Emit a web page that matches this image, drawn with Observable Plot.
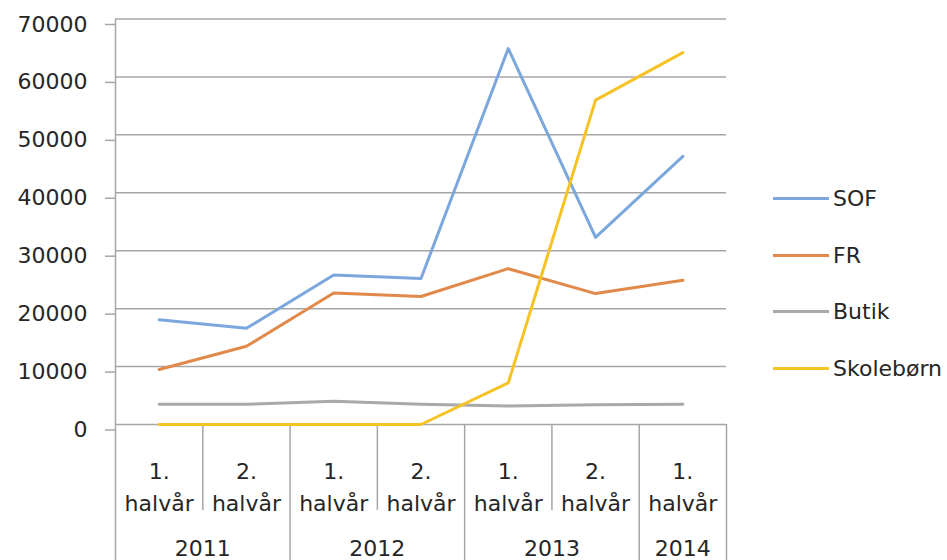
<!DOCTYPE html>
<html>
<head>
<meta charset="utf-8">
<script src="https://cdn.jsdelivr.net/npm/d3@7"></script>
<script src="https://cdn.jsdelivr.net/npm/@observablehq/plot@0.6"></script>
<style>
  html, body { margin: 0; padding: 0; background: #fff; }
  #wrap { position: relative; width: 947px; height: 560px; overflow: hidden; font-family: "DejaVu Sans", sans-serif; }
  #legend { position: absolute; left: 773px; top: 170px; }
  .item { display: flex; align-items: center; height: 56.7px; font-size: 22px; color: #262626; }
  .swatch { width: 56px; height: 3px; margin-right: 4px; }
</style>
</head>
<body>
<div id="wrap"><div id="legend"></div></div>
<script>
const categories = ["2011 1. halvår","2011 2. halvår","2012 1. halvår","2012 2. halvår","2013 1. halvår","2013 2. halvår","2014 1. halvår"];
const halfLabels = ["1.\nhalvår","2.\nhalvår","1.\nhalvår","2.\nhalvår","1.\nhalvår","2.\nhalvår","1.\nhalvår"];
const years = ["2011","2012","2013","2014"];
const yearSpans = [2,2,2,1];
const sof = [18100,16600,25800,25200,64900,32300,46300];
const fr = [9500,13500,22700,22100,26900,22600,24900];
const butik = [3500,3500,4000,3500,3200,3400,3500];
const skoleborn = [0,0,0,0,7200,56000,64200];
const seriesNames = ["SOF","FR","Butik","Skolebørn"];
const seriesColors = ["#7ba7dc","#e0894a","#a9a9a9","#f5c325"];
const yTicks = [0,10000,20000,30000,40000,50000,60000,70000];

const seriesValues = [sof, fr, butik, skoleborn];
const data = [];
seriesNames.forEach((name, s) => {
  categories.forEach((c, i) => data.push({series: name, category: c, i, value: seriesValues[s][i]}));
});

// category boundaries
const yearStarts = [];
let acc = 0;
yearSpans.forEach(n => { yearStarts.push(acc); acc += n; });
const yearBounds = [...yearStarts, categories.length];
const innerBounds = [];
yearStarts.forEach((st, k) => { for (let j = 1; j < yearSpans[k]; j++) innerBounds.push(st + j); });
const yearCenters = yearStarts.map((st, k) => st + yearSpans[k] / 2);

const gridColor = "#a6a6a6";
const textColor = "#262626";

const chart = Plot.plot({
  width: 760,
  height: 560,
  marginLeft: 115,
  marginRight: 34,
  marginTop: 18.5,
  marginBottom: 136,
  style: {fontFamily: "DejaVu Sans, sans-serif", fontSize: "22px", color: textColor, background: "white", overflow: "visible"},
  x: {domain: [0, categories.length], axis: null},
  y: {domain: [0, 70000], axis: null},
  color: {domain: seriesNames, range: seriesColors},
  marks: [
    Plot.gridY(yTicks, {stroke: gridColor, strokeOpacity: 1, strokeWidth: 1.5}),
    Plot.axisY(yTicks, {tickSize: 10, tickPadding: 18, stroke: gridColor, strokeWidth: 1.5, tickFormat: d => String(d), dy: 5.5, label: null, fill: textColor}),
    Plot.ruleX([0], {stroke: gridColor, strokeWidth: 1.5}),
    Plot.axisX(innerBounds, {tickSize: 86, tickFormat: () => "", stroke: gridColor, strokeWidth: 1.5, label: null}),
    Plot.axisX(yearBounds, {tickSize: 136, tickFormat: () => "", stroke: gridColor, strokeWidth: 1.5, label: null}),
    Plot.text(halfLabels, {x: (d, i) => i + 0.5, text: d => d, frameAnchor: "bottom", dy: 32, lineAnchor: "top", lineHeight: 1.45, fill: textColor}),
    Plot.text(years, {x: (d, k) => yearCenters[k], text: d => d, frameAnchor: "bottom", dy: 116, lineAnchor: "top", fill: textColor}),
    Plot.lineY(data, {x: d => d.i + 0.5, y: "value", stroke: "series", strokeWidth: 3, z: "series"})
  ]
});

const wrap = document.getElementById("wrap");
wrap.insertBefore(chart, wrap.firstChild);

const legend = document.getElementById("legend");
seriesNames.forEach((name, s) => {
  const item = document.createElement("div");
  item.className = "item";
  const sw = document.createElement("span");
  sw.className = "swatch";
  sw.style.background = seriesColors[s];
  const label = document.createElement("span");
  label.textContent = name;
  item.appendChild(sw);
  item.appendChild(label);
  legend.appendChild(item);
});
</script>
</body>
</html>
